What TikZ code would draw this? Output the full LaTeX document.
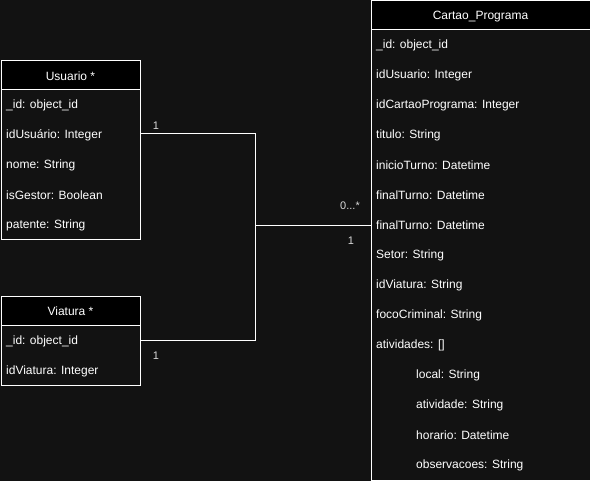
\documentclass[tikz,border=0pt]{standalone}
\usepackage{fontspec}
\setmainfont{Liberation Sans}
\definecolor{bgc}{RGB}{18,18,18}
\begin{document}
\begin{tikzpicture}[x=1pt,y=-1pt,
  tbl/.style={draw=white,line width=1pt,fill=bgc,inner sep=0pt},
  hdr/.style={draw=white,line width=1pt,fill=black,inner sep=0pt},
  hdrtxt/.style={text=white,font=\fontsize{12}{14}\selectfont,inner sep=0pt,yshift=-1pt},
  rowtxt/.style={text=white,font=\fontsize{12}{14}\selectfont,anchor=west,inner sep=0pt,yshift=-1.5pt},
  card/.style={text=white!85!black,font=\fontsize{11}{13}\selectfont,inner sep=0pt,yshift=-1pt},
  conn/.style={draw=white,line width=1pt}]
\fill[bgc] (0,0) rectangle (591,481);
\useasboundingbox (0,0) rectangle (591,481);
% Usuario
\draw[tbl] (1,61) rectangle (140,239);
\draw[hdr] (1,61) rectangle (140,90);
\node[hdrtxt] (uh) at (70.5,75.5) {Usuario *};
\node[rowtxt] (u1) at (6,104) {\_id: object\_id};
\node[rowtxt] (u2) at (6,134) {idUsuário: Integer};
\node[rowtxt] (u3) at (6,164) {nome: String};
\node[rowtxt] (u4) at (6,194) {isGestor: Boolean};
\node[rowtxt] (u5) at (6,224) {patente: String};
\coordinate (ue) at (140,134);
% Viatura
\draw[tbl] (1,296) rectangle (140,385);
\draw[hdr] (1,296) rectangle (140,325);
\node[hdrtxt] (vh) at (70.5,310.5) {Viatura *};
\node[rowtxt] (v1) at (6,340) {\_id: object\_id};
\node[rowtxt] (v2) at (6,370) {idViatura: Integer};
\coordinate (ve) at (140,340);
% Cartao_Programa
\draw[tbl] (371,1) rectangle (590,480);
\draw[hdr] (371,1) rectangle (590,30);
\node[hdrtxt] (ch) at (480.5,15.5) {Cartao\_Programa};
\node[rowtxt] (c1) at (376,44) {\_id: object\_id};
\node[rowtxt] (c2) at (376,74) {idUsuario: Integer};
\node[rowtxt] (c3) at (376,104) {idCartaoPrograma: Integer};
\node[rowtxt] (c4) at (376,134) {titulo: String};
\node[rowtxt] (c5) at (376,164) {inicioTurno: Datetime};
\node[rowtxt] (c6) at (376,194) {finalTurno: Datetime};
\node[rowtxt] (c7) at (376,224) {finalTurno: Datetime};
\node[rowtxt] (c8) at (376,254) {Setor: String};
\node[rowtxt] (c9) at (376,284) {idViatura: String};
\node[rowtxt] (c10) at (376,314) {focoCriminal: String};
\node[rowtxt] (c11) at (376,344) {atividades: []};
\node[rowtxt] (c12) at (416,374) {local: String};
\node[rowtxt] (c13) at (416,404) {atividade: String};
\node[rowtxt] (c14) at (416,434) {horario: Datetime};
\node[rowtxt] (c15) at (416,464) {observacoes: String};
\coordinate (cw) at (371,225);
\coordinate (jn) at (255,225);
% connectors
\draw[conn] (ue) -- (ue -| jn) -- (jn) -- (cw);
\draw[conn] (ve) -- (ve -| jn) -- (jn);
% cardinalities
\node[card] (l1) at (156,125) {1};
\node[card] (l2) at (350,205) {0...*};
\node[card] (l3) at (351,240) {1};
\node[card] (l4) at (156,355) {1};
\end{tikzpicture}
\end{document}
